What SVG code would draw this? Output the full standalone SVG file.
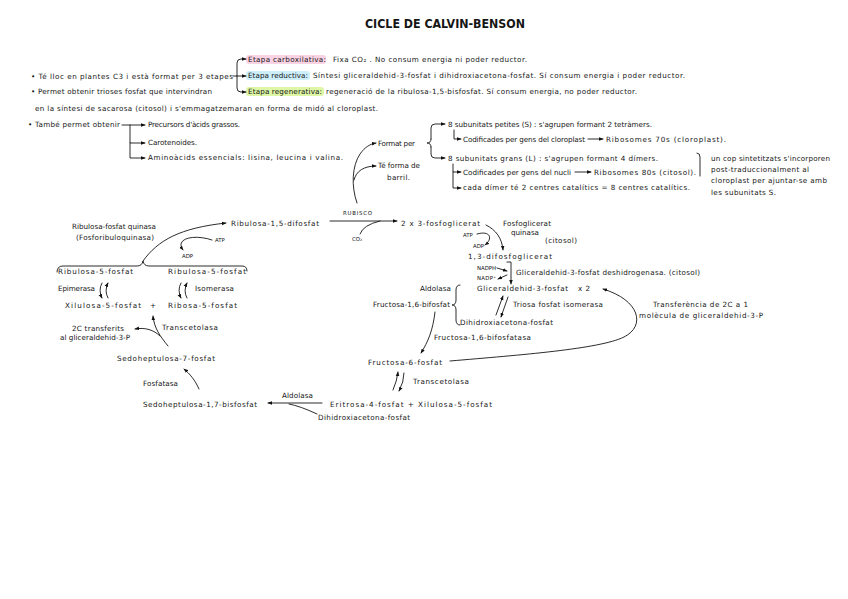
<svg xmlns="http://www.w3.org/2000/svg" width="848" height="599" viewBox="0 0 848 599">
<defs>
<marker id="ah" viewBox="0 0 10 10" refX="9" refY="5" markerWidth="4.5" markerHeight="4.5" markerUnits="userSpaceOnUse" orient="auto"><path d="M0,1 L10,5 L0,9 z" fill="#111"/></marker>
<style>
text{font-family:"DejaVu Sans","Liberation Sans",sans-serif;fill:#151515}
.t{font-size:7.2px}
.s{font-size:5.4px}
.title{font-size:12px;font-weight:bold}
.c{fill:none;stroke:#151515;stroke-width:0.9;stroke-linecap:round;stroke-linejoin:round}
.a{marker-end:url(#ah)}
</style>
</defs>
<rect width="848" height="599" fill="#ffffff"/>

<g id="title"><text class="title" x="365" y="28" textLength="160" lengthAdjust="spacingAndGlyphs">CICLE DE CALVIN-BENSON</text></g>

<g id="highlights">
<rect x="246" y="55" width="80" height="9" rx="3" fill="#f9d2e4"/>
<rect x="246" y="71" width="64" height="9" rx="3" fill="#cdeefb"/>
<rect x="246" y="87" width="78" height="9" rx="3" fill="#def7a6"/>
</g>

<g id="notes">
<text class="t" x="31" y="79" textLength="202" lengthAdjust="spacing">• Té lloc en plantes C3 i està format per 3 etapes</text>
<text class="t" x="248" y="62" textLength="78" lengthAdjust="spacing">Etapa carboxilativa:</text>
<text class="t" x="333" y="62" textLength="194" lengthAdjust="spacing">Fixa CO₂ . No consum energia ni poder reductor.</text>
<text class="t" x="248" y="78" textLength="60" lengthAdjust="spacing">Etapa reductiva:</text>
<text class="t" x="313" y="78" textLength="372" lengthAdjust="spacing">Síntesi gliceraldehid-3-fosfat i dihidroxiacetona-fosfat. Sí consum energia i poder reductor.</text>
<text class="t" x="248" y="94" textLength="74" lengthAdjust="spacing">Etapa regenerativa:</text>
<text class="t" x="326" y="94" textLength="311" lengthAdjust="spacing">regeneració de la ribulosa-1,5-bisfosfat. Sí consum energia, no poder reductor.</text>
<text class="t" x="31" y="94" textLength="181" lengthAdjust="spacing">• Permet obtenir trioses fosfat que intervindran</text>
<text class="t" x="35" y="111" textLength="343" lengthAdjust="spacing">en la síntesi de sacarosa (citosol) i s'emmagatzemaran en forma de midó al cloroplast.</text>
<text class="t" x="28" y="127" textLength="92" lengthAdjust="spacing">• També permet obtenir</text>
<text class="t" x="148" y="127" textLength="92" lengthAdjust="spacing">Precursors d'àcids grassos.</text>
<text class="t" x="148" y="145" textLength="49" lengthAdjust="spacing">Carotenoides.</text>
<text class="t" x="148" y="160" textLength="195" lengthAdjust="spacing">Aminoàcids essencials: lisina, leucina i valina.</text>
</g>

<g id="rubisco-notes">
<text class="t" x="378" y="146" textLength="37" lengthAdjust="spacing">Format per</text>
<text class="t" x="378" y="168" textLength="42" lengthAdjust="spacing">Té forma de</text>
<text class="t" x="387" y="180" textLength="23" lengthAdjust="spacing">barril.</text>
<text class="t" x="448" y="127" textLength="204" lengthAdjust="spacing">8 subunitats petites (S) : s'agrupen formant 2 tetràmers.</text>
<text class="t" x="463" y="142" textLength="122" lengthAdjust="spacing">Codificades per gens del cloroplast</text>
<text class="t" x="606" y="142" textLength="120" lengthAdjust="spacing">Ribosomes 70s (cloroplast).</text>
<text class="t" x="448" y="161" textLength="210" lengthAdjust="spacing">8 subunitats grans (L) : s'agrupen formant 4 dímers.</text>
<text class="t" x="463" y="175" textLength="108" lengthAdjust="spacing">Codificades per gens del nucli</text>
<text class="t" x="594" y="175" textLength="102" lengthAdjust="spacing">Ribosomes 80s (citosol).</text>
<text class="t" x="463" y="190" textLength="227" lengthAdjust="spacing">cada dímer té 2 centres catalítics = 8 centres catalítics.</text>
<text class="t" x="711" y="161" textLength="119" lengthAdjust="spacing">un cop sintetitzats s'incorporen</text>
<text class="t" x="711" y="172" textLength="98" lengthAdjust="spacing">post-traduccionalment al</text>
<text class="t" x="711" y="183" textLength="116" lengthAdjust="spacing">cloroplast per ajuntar-se amb</text>
<text class="t" x="711" y="195" textLength="65" lengthAdjust="spacing">les subunitats S.</text>
</g>

<g id="n-rubp"><text class="t" x="231" y="226" textLength="88" lengthAdjust="spacing">Ribulosa-1,5-difosfat</text></g>
<g id="l-rubisco"><text class="s" x="343" y="215" textLength="29" lengthAdjust="spacing">RUBISCO</text><text class="s" x="352" y="241">CO₂</text></g>
<g id="n-3pg"><text class="t" x="401" y="226" textLength="79" lengthAdjust="spacing">2 x 3-fosfoglicerat</text></g>
<g id="l-pgk">
<text class="t" x="503" y="226" textLength="48" lengthAdjust="spacing">Fosfoglicerat</text>
<text class="t" x="511" y="235" textLength="28" lengthAdjust="spacing">quinasa</text>
<text class="t" x="545" y="243" textLength="32" lengthAdjust="spacing">(citosol)</text>
<text class="s" x="463" y="237">ATP</text>
<text class="s" x="473" y="248">ADP</text>
</g>
<g id="n-13bpg"><text class="t" x="468" y="259" textLength="84" lengthAdjust="spacing">1,3-difosfoglicerat</text></g>
<g id="l-gapdh">
<text class="s" x="477" y="270" font-size="4.8" textLength="19" lengthAdjust="spacing">NADPH</text>
<text class="s" x="477" y="280" font-size="4.8" textLength="19" lengthAdjust="spacing">NADP⁺</text>
<text class="t" x="516" y="275" textLength="184" lengthAdjust="spacing">Gliceraldehid-3-fosfat deshidrogenasa. (citosol)</text>
</g>
<g id="n-g3p"><text class="t" x="477" y="291" textLength="91" lengthAdjust="spacing">Gliceraldehid-3-fosfat</text><text class="t" x="578" y="291" textLength="12" lengthAdjust="spacing">x2</text></g>
<g id="l-aldolasa1"><text class="t" x="420" y="291" textLength="31" lengthAdjust="spacing">Aldolasa</text></g>
<g id="n-fbp"><text class="t" x="373" y="307" textLength="77" lengthAdjust="spacing">Fructosa-1,6-bifosfat</text></g>
<g id="l-tpi"><text class="t" x="513" y="307" textLength="90" lengthAdjust="spacing">Triosa fosfat isomerasa</text></g>
<g id="n-dhap1"><text class="t" x="460" y="325" textLength="93" lengthAdjust="spacing">Dihidroxiacetona-fosfat</text></g>
<g id="l-fbpasa"><text class="t" x="434" y="340" textLength="97" lengthAdjust="spacing">Fructosa-1,6-bifosfatasa</text></g>
<g id="n-f6p"><text class="t" x="368" y="365" textLength="74" lengthAdjust="spacing">Fructosa-6-fosfat</text></g>
<g id="l-transfer">
<text class="t" x="653" y="307" textLength="95" lengthAdjust="spacing">Transferència de 2C a 1</text>
<text class="t" x="639" y="318" textLength="124" lengthAdjust="spacing">molècula de gliceraldehid-3-P</text>
</g>
<g id="l-tk2"><text class="t" x="413" y="384" textLength="56" lengthAdjust="spacing">Transcetolasa</text></g>
<g id="n-e4p"><text class="t" x="330" y="407" textLength="162" lengthAdjust="spacing">Eritrosa-4-fosfat + Xilulosa-5-fosfat</text></g>
<g id="l-aldolasa2"><text class="t" x="282" y="398" textLength="31" lengthAdjust="spacing">Aldolasa</text></g>
<g id="n-dhap2"><text class="t" x="318" y="420" textLength="92" lengthAdjust="spacing">Dihidroxiacetona-fosfat</text></g>
<g id="n-sbp"><text class="t" x="143" y="407" textLength="114" lengthAdjust="spacing">Sedoheptulosa-1,7-bisfosfat</text></g>
<g id="l-fosfatasa"><text class="t" x="143" y="386" textLength="35" lengthAdjust="spacing">Fosfatasa</text></g>
<g id="n-s7p"><text class="t" x="117" y="361" textLength="98" lengthAdjust="spacing">Sedoheptulosa-7-fosfat</text></g>
<g id="l-tk1"><text class="t" x="162" y="330" textLength="56" lengthAdjust="spacing">Transcetolasa</text></g>
<g id="l-2c"><text class="t" x="72" y="331" textLength="52" lengthAdjust="spacing">2C transferits</text><text class="t" x="60" y="340" textLength="70" lengthAdjust="spacing">al gliceraldehid-3-P</text></g>
<g id="n-x5p"><text class="t" x="65" y="308" textLength="76" lengthAdjust="spacing">Xilulosa-5-fosfat</text><text class="t" x="150" y="308">+</text></g>
<g id="n-r5p"><text class="t" x="168" y="308" textLength="69" lengthAdjust="spacing">Ribosa-5-fosfat</text></g>
<g id="l-epim"><text class="t" x="58" y="291" textLength="37" lengthAdjust="spacing">Epimerasa</text></g>
<g id="l-isom"><text class="t" x="195" y="291" textLength="39" lengthAdjust="spacing">Isomerasa</text></g>
<g id="n-ru5p-a"><text class="t" x="58" y="274" textLength="75" lengthAdjust="spacing">Ribulosa-5-fosfat</text></g>
<g id="n-ru5p-b"><text class="t" x="168" y="274" textLength="78" lengthAdjust="spacing">Ribulosa-5-fosfat</text></g>
<g id="l-prk">
<text class="t" x="72" y="229" textLength="84" lengthAdjust="spacing">Ribulosa-fosfat quinasa</text>
<text class="t" x="76" y="240" textLength="78" lengthAdjust="spacing">(Fosforibuloquinasa)</text>
<text class="s" x="215" y="242">ATP</text>
<text class="s" x="182" y="258">ADP</text>
</g>

<g id="connectors">
<path class="c a" d="M233,76 L246,76"/>
<path class="c a" d="M237,76 L237,63 Q237,59 241,59 L246,59"/>
<path class="c a" d="M237,76 L237,88 Q237,92 241,92 L246,92"/>
<path class="c a" d="M122,125 L145,125"/>
<path class="c a" d="M130,125 L130,143 L145,143"/>
<path class="c a" d="M130,143 L130,158 L145,158"/>
<path class="c a" d="M357,203 C351,186 352,166 360,154 C365,147 370,144 376,143"/>
<path class="c a" d="M354,180 C356,171 364,166 376,166"/>
<path class="c a" d="M431,139 L431,128 Q431,124 435,124 L445,124"/>
<path class="c a" d="M431,147 L431,154 Q431,158 435,158 L445,158"/>
<path class="c" d="M431,139 Q431,143 427,143 Q431,143 431,147"/>
<path class="c a" d="M454,130 L454,139 L461,139"/>
<path class="c a" d="M588,139 L603,139"/>
<path class="c a" d="M453,164 L453,172 L461,172"/>
<path class="c a" d="M453,172 L453,188 L461,188"/>
<path class="c a" d="M575,172 L591,172"/>
<path class="c" d="M697,153 Q700,153 700,157 L700,176"/>
<path class="c a" d="M330,221 L397,221"/>
<path class="c" d="M360,234 Q363,225 380,221"/>
<path class="c a" d="M486,225 C496,230 502,238 503,250"/>
<path class="c a" d="M477,234 C491,230 493,239 485,245"/>
<path class="c a" d="M497,268 L507,271"/>
<path class="c a" d="M507,275 L498,279"/>
<path class="c a" d="M507,262 L511,262 L511,284"/>
<path class="c" d="M460,285 Q456,285 456,290 L456,300 Q456,305 452,305 Q456,305 456,310 L456,320 Q456,325 460,325"/>
<path class="c a" d="M496,315 L503,296"/>
<path class="c a" d="M508,297 L501,317"/>
<path class="c a" d="M435,312 C433,330 428,342 421,353"/>
<path class="c a" d="M450,361 C520,355 600,349 624,337 C646,326 640,300 603,289"/>
<path class="c a" d="M393,390 Q397,381 398,372"/>
<path class="c a" d="M404,373 Q404,382 399,391"/>
<path class="c a" d="M322,403 L268,403"/>
<path class="c" d="M317,414 Q300,406 289,404"/>
<path class="c a" d="M199,389 C195,380 190,374 184,369"/>
<path class="c a" d="M168,346 C160,336 154,328 153,316"/>
<path class="c a" d="M160,336 C154,330 145,327 135,329"/>
<path class="c a" d="M102,283 Q98,290 102,298"/>
<path class="c a" d="M108,298 Q104,291 108,283"/>
<path class="c a" d="M181,283 Q177,290 181,298"/>
<path class="c a" d="M187,298 Q183,291 187,283"/>
<path class="c" d="M57,272 Q57,266 63,266 L137,266 Q142,266 143,261 Q144,266 149,266 L242,266 Q247,266 247,271"/>
<path class="c a" d="M143,261 C158,240 180,228 226,223"/>
<path class="c a" d="M212,240 C195,234 174,238 183,250"/>
</g>
</svg>
